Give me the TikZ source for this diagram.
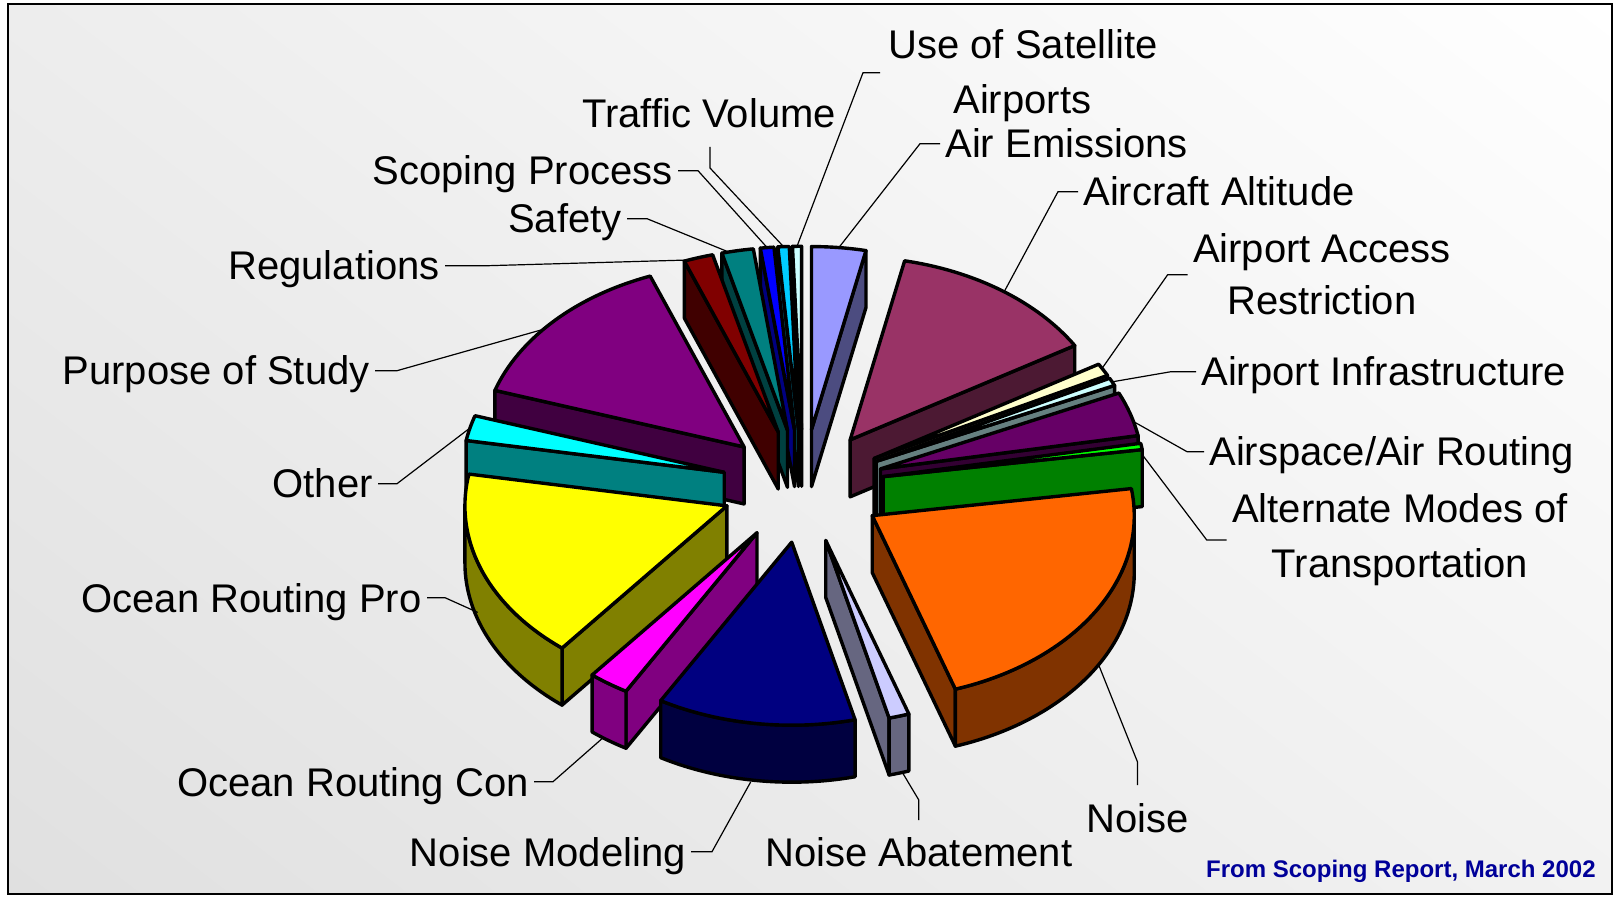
\documentclass[tikz,border=0pt]{standalone}
\usepackage{fontspec}
\setmainfont{Liberation Sans}
\usepackage{tikz}
\usetikzlibrary{calc,shadings}
\definecolor{AirEmCol}{RGB}{153,153,255}
\definecolor{AltitudeCol}{RGB}{153,51,102}
\definecolor{AccessCol}{RGB}{255,255,204}
\definecolor{InfraCol}{RGB}{204,255,255}
\definecolor{AirspaceCol}{RGB}{102,0,102}
\definecolor{ModesCol}{RGB}{0,255,0}
\definecolor{NoiseCol}{RGB}{255,102,0}
\definecolor{AbateCol}{RGB}{204,204,255}
\definecolor{ModelCol}{RGB}{0,0,128}
\definecolor{ConCol}{RGB}{255,0,255}
\definecolor{ProCol}{RGB}{255,255,0}
\definecolor{OtherCol}{RGB}{0,255,255}
\definecolor{PurposeCol}{RGB}{128,0,128}
\definecolor{RegsCol}{RGB}{128,0,0}
\definecolor{SafetyCol}{RGB}{0,128,128}
\definecolor{ScopingCol}{RGB}{0,0,255}
\definecolor{TrafficCol}{RGB}{0,204,255}
\definecolor{SatCol}{RGB}{204,255,255}
\definecolor{CreditCol}{RGB}{0,0,153}
\definecolor{BackTL}{RGB}{237,237,237}
\definecolor{BackBL}{RGB}{224,224,224}
\definecolor{BackBR}{RGB}{242,242,242}

% one exploded slice: name, start angle, end angle, top colour
\newcommand{\pieslice}[4]{%
  \pgfmathsetmacro{\pSm}{(#2+#3)/2}
  \pgfmathsetmacro{\pAx}{803+0.31*262*cos(\pSm)}
  \pgfmathsetmacro{\pAy}{-486+0.31*183*sin(\pSm)}
  \coordinate (#1-c) at (\pAx,\pAy);
  \pgfmathtruncatemacro{\pVlo}{cos(#2)>0.01 ? 1 : 0}
  \ifnum\pVlo=1
    \filldraw[face,fill=#4!50!black] (#1-c) -- ++(#2:262 and 183) -- ++(0,-57) -- ($(#1-c)+(0,-57)$) -- cycle;
  \fi
  \pgfmathtruncatemacro{\pVhi}{cos(#3)<-0.01 ? 1 : 0}
  \ifnum\pVhi=1
    \filldraw[face,fill=#4!50!black] (#1-c) -- ++(#3:262 and 183) -- ++(0,-57) -- ($(#1-c)+(0,-57)$) -- cycle;
  \fi
  \pgfmathsetmacro{\pUa}{max(#2,-180)}
  \pgfmathsetmacro{\pUb}{min(#3,0)}
  \pgfmathtruncatemacro{\pVr}{\pUb>\pUa ? 1 : 0}
  \ifnum\pVr=1
    \filldraw[face,fill=#4!50!black] ($(#1-c)+(\pUa:262 and 183)$) arc[start angle=\pUa, end angle=\pUb, x radius=262, y radius=183]
      -- ++(0,-57) arc[start angle=\pUb, end angle=\pUa, x radius=262, y radius=183] -- cycle;
  \fi
  \filldraw[face,fill=#4] (#1-c) -- ++(#2:262 and 183) arc[start angle=#2, end angle=#3, x radius=262, y radius=183] -- cycle;
}

\begin{document}
\begin{tikzpicture}[x=0.5pt,y=0.5pt,
    face/.style={draw=black,line width=1.7pt,line join=round},
    leader/.style={draw=black,line width=0.6pt},
    lbl/.style={font=\fontsize{20}{24}\selectfont,inner xsep=2.5pt,inner ysep=0pt,text height=14.3pt,text depth=0pt},
    lbltwo/.style={inner xsep=2.5pt,inner ysep=0pt,align=center}]
  \useasboundingbox (0,0) rectangle (1617,-897);
  \fill[white] (0,0) rectangle (1617,-897);
  \shade[upper left=BackTL, upper right=white, lower left=BackBL, lower right=BackBR]
    (8,-4) rectangle (1612,-894);
  \draw[line width=1pt] (8,-4) rectangle (1612,-894);

  % slices, back to front
  \pieslice{usesat}{90}{92}{SatCol}
  \pieslice{traffic}{92}{94.5}{TrafficCol}
  \pieslice{airem}{78}{90}{AirEmCol}
  \pieslice{scoping}{94.5}{97.5}{ScopingCol}
  \pieslice{safety}{97.5}{104.5}{SafetyCol}
  \pieslice{regs}{104.5}{111}{RegsCol}
  \pieslice{aircraft}{31}{78}{AltitudeCol}
  \pieslice{purpose}{111}{162}{PurposeCol}
  \pieslice{aar}{27}{31}{AccessCol}
  \pieslice{ainfra}{24.5}{27}{InfraCol}
  \pieslice{airspace}{10.5}{24.5}{AirspaceCol}
  \pieslice{other}{162}{170}{OtherCol}
  \pieslice{altmodes}{8.5}{10.5}{ModesCol}
  \pieslice{orp}{-190}{-129}{ProCol}
  \pieslice{noise}{-71.5}{8.5}{NoiseCol}
  \pieslice{orc}{-129}{-120}{ConCol}
  \pieslice{noiseab}{-76}{-71.5}{AbateCol}
  \pieslice{noisemod}{-120}{-76}{ModelCol}

  % where the leaders meet the slices
  \coordinate (usesat-p) at ($(usesat-c)+(91:262 and 183)$);
  \coordinate (traffic-p) at ($(traffic-c)+(93.25:262 and 183)$);
  \coordinate (scoping-p) at ($(scoping-c)+(96:262 and 183)$);
  \coordinate (safety-p) at ($(safety-c)+(103:262 and 183)$);
  \coordinate (regs-p) at ($(regs-c)+(110:262 and 183)$);
  \coordinate (purpose-p) at ($(purpose-c)+(140:262 and 183)$);
  \coordinate (other-p) at ($(other-c)+(166:262 and 183)$);
  \coordinate (orp-p) at ($(orp-c)+(198:262 and 183)+(0,-50)$);
  \coordinate (orc-p) at ($(orc-c)+(234:262 and 183)+(0,-57)$);
  \coordinate (noisemod-p) at ($(noisemod-c)+(261:262 and 183)+(0,-59)$);
  \coordinate (noiseab-p) at ($(noiseab-c)+(287:262 and 183)+(0,-57)$);
  \coordinate (noise-p) at ($(noise-c)+(-30:262 and 183)+(0,-59)$);
  \coordinate (altmodes-p) at ($(altmodes-c)+(8.5:262 and 183)+(0,-5)$);
  \coordinate (airspace-p) at ($(airspace-c)+(15:262 and 183)$);
  \coordinate (ainfra-p) at ($(ainfra-c)+(25.75:262 and 183)$);
  \coordinate (aar-p) at ($(aar-c)+(29.5:262 and 183)$);
  \coordinate (aircraft-p) at ($(aircraft-c)+(54:262 and 183)$);
  \coordinate (airem-p) at ($(airem-c)+(84:262 and 183)$);
  \coordinate (traffic-k) at (710,-147);

  % labels
  \node[lbl,anchor=base west] (usesat) at (883,-59) {Use of Satellite};
  \node[lbl,anchor=base west] (airports) at (948,-114) {Airports};
  \node[lbl,anchor=base west] (airem) at (940,-158) {Air Emissions};
  \node[lbl,anchor=base west] (aircraft) at (1078,-206) {Aircraft Altitude};
  \node[lbltwo,font=\fontsize{20}{26}\selectfont] (aar) at (1322,-274.7) {Airport Access\\Restriction};
  \node[lbl,anchor=base west] (ainfra) at (1196,-386) {Airport Infrastructure};
  \node[lbl,anchor=base west] (airspace) at (1204,-466) {Airspace/Air Routing};
  \node[lbltwo,font=\fontsize{20}{27.5}\selectfont] (altmodes) at (1400,-540) {Alternate Modes of\\Transportation};
  \node[lbl,anchor=base west] (noise) at (1081,-832) {Noise};
  \node[lbl,anchor=base west] (noiseab) at (760,-866) {Noise Abatement};
  \node[lbl,anchor=base east] (noisemod) at (691,-866) {Noise Modeling};
  \node[lbl,anchor=base east] (orc) at (534,-796) {Ocean Routing Con};
  \node[lbl,anchor=base east] (orp) at (427,-612) {Ocean Routing Pro};
  \node[lbl,anchor=base east] (other) at (378,-498) {Other};
  \node[lbl,anchor=base east] (purpose) at (375,-385) {Purpose of Study};
  \node[lbl,anchor=base east] (regs) at (445,-280) {Regulations};
  \node[lbl,anchor=base east] (safety) at (627,-233) {Safety};
  \node[lbl,anchor=base east] (scoping) at (678,-185) {Scoping Process};
  \node[lbl,anchor=base west] (traffic) at (577,-128) {Traffic Volume};
  \node[anchor=base east,inner sep=0pt,text=CreditCol,font=\fontsize{12}{14}\selectfont\bfseries] (credit) at (1596,-877) {From Scoping Report, March 2002};

  % leader lines
  \draw[leader] ($(usesat.west)+(-3,-28)$) -- ++(-17,0) -- (usesat-p);
  \draw[leader] (airem.west) -- ++(-20,0) -- (airem-p);
  \draw[leader] (aircraft.west) -- ++(-20,0) -- (aircraft-p);
  \draw[leader] (aar.west) -- ++(-20,0) -- (aar-p);
  \draw[leader] (ainfra.west) -- ++(-25,0) -- (ainfra-p);
  \draw[leader] (airspace.west) -- ++(-17,0) -- (airspace-p);
  \draw[leader] (altmodes.west) -- ++(-20,0) -- (altmodes-p);
  \draw[leader] ($(noise.north)+(0,18)$) -- ++(0,23) -- (noise-p);
  \draw[leader] ($(noiseab.north)+(0,17)$) -- ++(0,20) -- (noiseab-p);
  \draw[leader] (noisemod.east) -- ++(21,0) -- (noisemod-p);
  \draw[leader] (orc.east) -- ++(19,0) -- (orc-p);
  \draw[leader] (orp.east) -- ++(18,0) -- (orp-p);
  \draw[leader] (other.east) -- ++(19,0) -- (other-p);
  \draw[leader] (purpose.east) -- ++(22,0) -- (purpose-p);
  \draw[leader] (regs.east) -- ++(43,0) -- (regs-p);
  \draw[leader] (safety.east) -- ++(20,0) -- (safety-p);
  \draw[leader] (scoping.east) -- ++(20,0) -- (scoping-p);
  \draw[leader] (traffic-k) -- ++(0,-21) -- (traffic-p);
\end{tikzpicture}
\end{document}
